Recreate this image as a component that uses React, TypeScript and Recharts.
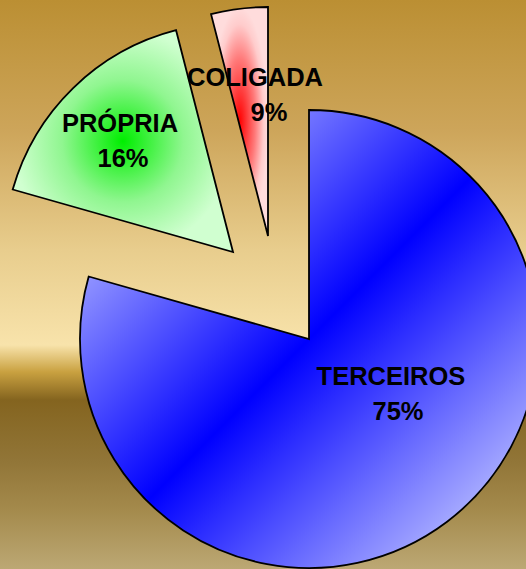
import { PieChart, Pie, Cell } from "recharts";

const categories = ["TERCEIROS", "PRÓPRIA", "COLIGADA"];
const shares = [79.4, 16.6, 4.0];
const percentLabels = ["75%", "16%", "9%"];

const data = categories.map((name, i) => ({ name, value: shares[i] }));

const FILLS = ["url(#gradBlue)", "url(#gradGreen)", "url(#gradRed)"];

// each slice is exploded: its own pie centre
const CENTERS = [
  { cx: 309, cy: 339 },
  { cx: 233, cy: 252 },
  { cx: 268, cy: 236 },
];

// label placement (name line centre x, % line centre x, name baseline)
const LABEL_POS = [
  { x: 391, x2: 398, y: 385 },
  { x: 120, x2: 123, y: 132 },
  { x: 255, x2: 269, y: 86 },
];

const RADIUS = 229;

function makeLabel(slice: number) {
  return (props: { index?: number }) => {
    if (props.index !== slice) return null;
    const p = LABEL_POS[slice];
    return (
      <g>
        <text
          x={p.x}
          y={p.y}
          textAnchor="middle"
          fontFamily="'Liberation Sans', Arial, sans-serif"
          fontWeight="bold"
          fontSize={25.5}
          fill="#000"
        >
          {categories[slice]}
        </text>
        <text
          x={p.x2}
          y={p.y + 35}
          textAnchor="middle"
          fontFamily="'Liberation Sans', Arial, sans-serif"
          fontWeight="bold"
          fontSize={25.5}
          fill="#000"
        >
          {percentLabels[slice]}
        </text>
      </g>
    );
  };
}

export default function App() {
  return (
    <div
      style={{
        position: "absolute",
        left: 0,
        top: 0,
        width: 526,
        height: 569,
        overflow: "hidden",
        background:
          "linear-gradient(to bottom, #bb8f33 0px, #cda55a 130px, #e8cd8d 250px, #f8e3ab 345px, #c9a140 372px, #84641f 400px, #917537 460px, #a48a4c 510px, #bca874 569px)",
      }}
    >
      <PieChart width={526} height={569} margin={{ top: 0, right: 0, bottom: 0, left: 0 }}>
        <defs>
          <linearGradient id="gradBlue" x1="0" y1="0" x2="1" y2="1">
            <stop offset="0.12" stopColor="#b0b4ff" />
            <stop offset="0.5" stopColor="#0000ff" />
            <stop offset="0.88" stopColor="#b0b4ff" />
          </linearGradient>
          <radialGradient id="gradGreen" cx="0.5" cy="0.5" r="0.5">
            <stop offset="0" stopColor="#00ee00" />
            <stop offset="0.55" stopColor="#90f690" />
            <stop offset="1" stopColor="#d0ffd0" />
          </radialGradient>
          <radialGradient id="gradRed" cx="0.5" cy="0.5" r="0.5">
            <stop offset="0" stopColor="#ff0000" />
            <stop offset="0.55" stopColor="#ff7a7a" />
            <stop offset="0.85" stopColor="#ffcccc" />
            <stop offset="1" stopColor="#ffdcdc" />
          </radialGradient>
        </defs>
        {CENTERS.map((c, slice) => (
          <Pie
            key={slice}
            data={data}
            dataKey="value"
            nameKey="name"
            cx={c.cx}
            cy={c.cy}
            outerRadius={RADIUS}
            startAngle={90}
            endAngle={-270}
            isAnimationActive={false}
            labelLine={false}
            label={makeLabel(slice)}
          >
            {data.map((d, i) => (
              <Cell
                key={d.name}
                fill={i === slice ? FILLS[i] : "none"}
                stroke={i === slice ? "#000" : "none"}
                strokeWidth={1.8}
              />
            ))}
          </Pie>
        ))}
      </PieChart>
    </div>
  );
}
